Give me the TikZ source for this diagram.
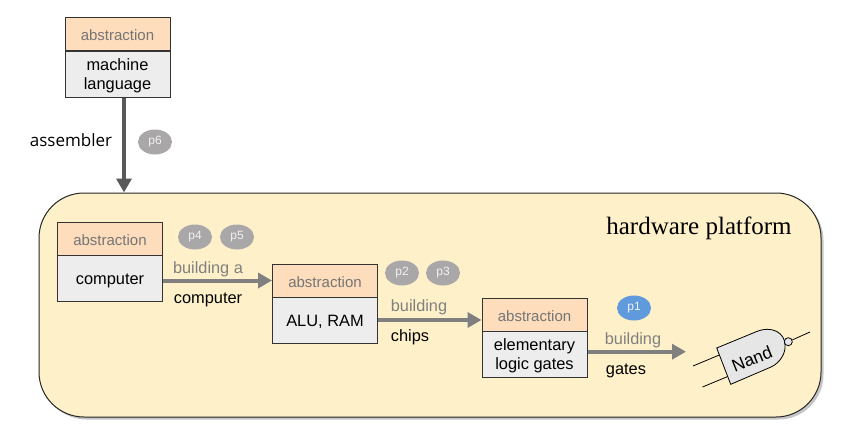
\documentclass[tikz,border=0pt]{standalone}
\usepackage{fontspec}
\setmainfont{Liberation Sans}
\newfontfamily\titlefont{Liberation Serif}
\newfontfamily\notefont{Open Sans}
\usetikzlibrary{shapes.geometric}
\usetikzlibrary{arrows.meta}
\usetikzlibrary{shadows}
\definecolor{platformfill}{HTML}{FEF1C9}
\definecolor{headfill}{HTML}{FDDDBB}
\definecolor{bodyfill}{HTML}{EDEDED}
\definecolor{gatefill}{HTML}{E6E6E6}
\definecolor{headtext}{HTML}{757575}
\definecolor{pillgray}{HTML}{A9A7A7}
\definecolor{pillblue}{HTML}{5F9BDC}
\tikzstyle{head}=[rectangle,draw=black!80,fill=headfill,text=headtext,inner sep=0mm,minimum width=105pt,minimum height=33pt,text height=13pt,text depth=0pt,font=\fontsize{15}{18}\selectfont]
\tikzstyle{body}=[rectangle,draw=black!80,fill=bodyfill,inner sep=0mm,minimum width=105pt,minimum height=46pt,align=center,text depth=0pt,font=\fontsize{16.4}{19}\selectfont]
\tikzstyle{single}=[text height=13.4pt]
\tikzstyle{double}=[text depth=-2pt]
\tikzstyle{pill}=[ellipse,fill=pillgray,text=white!85!pillgray,inner sep=0mm,minimum width=34pt,minimum height=25pt,font=\fontsize{12}{14}\selectfont]
\tikzstyle{arrow}=[-{Triangle[length=14pt,width=15pt]},line width=4pt,draw=black!50]
\tikzstyle{upper}=[text=black!50,inner sep=0mm,font=\fontsize{16.3}{19}\selectfont]
\tikzstyle{lower}=[text=black,inner sep=0mm,font=\fontsize{16.4}{19}\selectfont]
\tikzstyle{wire}=[draw=black,line width=0.8pt]
\tikzset{every picture/.style={
    line width=1
  }
}

\begin{document}
\begin{tikzpicture}[x=1pt,y=-1pt]
      \useasboundingbox (0,0) rectangle (861,436);
      \node[rectangle,draw=black!85,fill=platformfill,rounded corners=45pt,minimum width=782pt,minimum height=224pt,drop shadow={shadow xshift=2.5pt,shadow yshift=-2.5pt,fill=black!45}] at (430,305) (platform) {};
      \node[inner sep=0mm,font=\titlefont\fontsize{25}{30}\selectfont] at (699,228) (title) {hardware platform};
      % language level
      \node[head] at (117.5,34.5) (headml) {abstraction};
      \node[body,double] at (117.5,74.5) (ml) {machine\\language};
      \draw[arrow,draw=black!65] ([xshift=6.5pt]ml.south) -- ([xshift=6.5pt]ml.south |- platform.north);
      \node[inner sep=0mm,font=\notefont\fontsize{17}{20}\selectfont] at (71,140) (assembler) {assembler};
      \node[pill] at (155,142) (p6) {p6};
      % computer
      \node[head] at (110,238.5) (headcpu) {abstraction};
      \node[body,single] at (110,278) (cpu) {computer};
      % alu
      \node[head] at (325,280.5) (headalu) {abstraction};
      \node[body,single] at (325,320) (alu) {ALU, RAM};
      % gates
      \node[head] at (534.5,314.5) (headgates) {abstraction};
      \node[body,double] at (534.5,354) (gates) {elementary\\logic gates};
      % nand gate
      \coordinate (nandin) at (686,351.7);
      \coordinate (ina) at (693,366);
      \coordinate (inb) at (702.5,387);
      \coordinate (out) at (810,332);
      \draw[wire] (ina) -- (720,354.7);
      \draw[wire] (inb) -- (728,376.4);
      \draw[wire,fill=gatefill] (716.7,348) -- (756,331.8) .. controls (772,325) and (785,333) .. (785,345) .. controls (786,353) and (780,362.5) .. (771.7,366.7) -- (730.7,384.3) -- cycle;
      \node[circle,wire,fill=gatefill,inner sep=0mm,minimum size=8pt] at (788.3,341.7) (bubble) {};
      \draw[wire] (bubble) -- (out);
      \node[rotate=22,inner sep=0mm,font=\fontsize{17.5}{20}\selectfont] at (752,359) (nand) {Nand};
      % arrows and labels
      \draw[arrow] (cpu.east |- headalu.west) -- (headalu.west);
      \draw[arrow] (alu.east) -- (headgates.west |- alu.east);
      \draw[arrow] ([yshift=2.3pt]gates.east) -- (nandin);
      \node[upper] at (208,269.5) (ba) {building a};
      \node[lower] at (208,300) (bb) {computer};
      \node[upper] at (419,307.5) (ca) {building};
      \node[lower] at (410,337) (cb) {chips};
      \node[upper] at (633,340.5) (ga) {building};
      \node[lower] at (626,371) (gb) {gates};
      \node[pill] at (195,237) (p4) {p4};
      \node[pill] at (237,237) (p5) {p5};
      \node[pill] at (402,273) (p2) {p2};
      \node[pill] at (443,273) (p3) {p3};
      \node[pill,fill=pillblue] at (634,308) (p1) {p1};
    \end{tikzpicture}
\end{document}
